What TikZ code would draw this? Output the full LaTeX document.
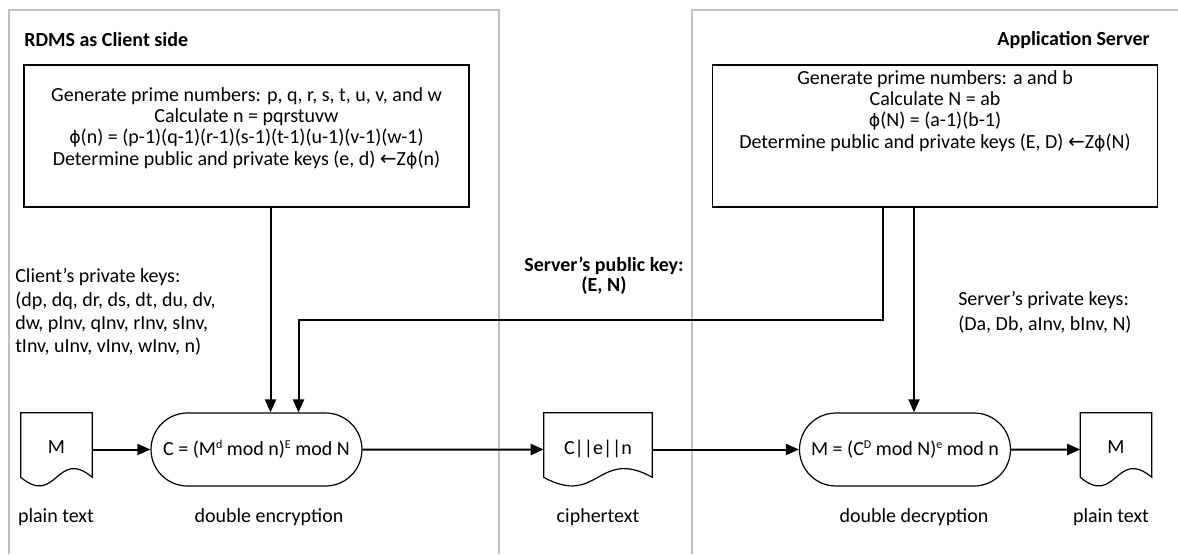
\documentclass[tikz,border=0pt]{standalone}
\usepackage{fontspec}
\setmainfont{Carlito}
\newfontfamily\arrowfont{DejaVu Sans}
\usepackage{tikz}
\usetikzlibrary{arrows.meta,calc,shapes.misc,positioning}
\newcommand{\expo}[1]{\raisebox{0.75ex}{\fontsize{9pt}{9pt}\selectfont #1}}
\newcommand{\totient}{{\arrowfont\fontsize{13pt}{13pt}\selectfont ϕ}}

\begin{document}
\begin{tikzpicture}[x=0.75pt,y=-0.75pt,
        every node/.style={inner sep=0pt,font=\fontsize{15pt}{17.5pt}\selectfont},
        lane/.style={draw=gray!50,line width=1.5pt},
        keybox/.style={draw,line width=0.9pt,minimum width=333.75pt,minimum height=106.5pt},
        boxtext/.style={align=center,font=\fontsize{15pt}{16pt}\selectfont},
        process/.style={draw,line width=0.9pt,rounded rectangle,minimum width=158.25pt,minimum height=54.75pt},
        doc/.style={minimum height=54.75pt},
        flow/.style={line width=1.5pt,-{Triangle[length=9.75pt,width=8.25pt]}}]
        \useasboundingbox (0,0) rectangle (1178,554);

        % swim lanes
        \draw[lane] (9,554) -- (9,10) -- (499,10) -- (499,554);
        \draw[lane] (692,554) -- (692,10) -- (1178,10);
        \node[anchor=west,font=\fontsize{15pt}{17.5pt}\selectfont\bfseries] (clienttitle) at (24,40) {RDMS as Client side};
        \node[anchor=east,font=\fontsize{15pt}{17.5pt}\selectfont\bfseries] (servertitle) at (1150,40) {Application Server};

        % key generation
        \node[keybox] (cbox) at (246.5,136) {};
        \node[boxtext] (ctext) at (246.5,128) {Generate prime numbers: p, q, r, s, t, u, v, and w\\Calculate n = pqrstuvw\\\totient(n) = (p-1)(q-1)(r-1)(s-1)(t-1)(u-1)(v-1)(w-1)\\Determine public and private keys (e, d) {\arrowfont ←}Z\totient(n)};
        \node[keybox] (sbox) at (935,136) {};
        \node[boxtext] (stext) at (935,111) {Generate prime numbers: a and b\\Calculate N = ab\\\totient(N) = (a-1)(b-1)\\Determine public and private keys (E, D) {\arrowfont ←}Z\totient(N)};

        \node[anchor=west,align=left] (ckeys) at (15,312) {Client’s private keys:\\(dp, dq, dr, ds, dt, du, dv,\\dw, pInv, qInv, rInv, sInv,\\tInv, uInv, vInv, wInv, n)};
        \node[align=center,font=\fontsize{15pt}{15pt}\selectfont\bfseries] (pubkey) at (604,276) {Server’s public key:\\(E, N)};
        \node[anchor=west,align=left,font=\fontsize{15pt}{18.5pt}\selectfont] (skeys) at (958,312) {Server’s private keys:\\(Da, Db, aInv, bInv, N)};

        % bottom row
        \node[doc,minimum width=53.25pt] (m1) at (56.5,449.5) {\raisebox{3pt}{M}};
        \node[process] (enc) at (256.5,449.5) {C = (M\expo{d} mod n)\expo{E} mod N};
        \node[doc,minimum width=81pt] (ct) at (598,449.5) {\raisebox{4pt}{C||e||n}};
        \node[process] (dec) at (905,449.5) {M = (C\expo{D} mod N)\expo{e} mod n};
        \node[doc,minimum width=53.25pt] (m2) at (1116,449.5) {\raisebox{3pt}{M}};
        \foreach \d in {m1,ct,m2}
            \draw[line width=0.9pt] ($(\d.south east)+(0,-9)$) -- (\d.north east) -- (\d.north west) -- ($(\d.south west)+(0,-9)$)
                .. controls ($(\d.south)+(0,21)$) and ($(\d.south)+(0,-39)$) .. cycle;

        \node (l1) at (56,517) {plain text};
        \node (l2) at (269,517) {double encryption};
        \node (l3) at (598,517) {ciphertext};
        \node (l4) at (914,517) {double decryption};
        \node (l5) at (1111,517) {plain text};

        % connectors
        \coordinate (e1) at ($(enc.north)+(14,0)$);
        \coordinate (e2) at ($(enc.north)+(42,0)$);
        \coordinate (d1) at ($(dec.north)+(9,0)$);
        \coordinate (s1) at ($(sbox.south)+(-52,0)$);
        \draw[flow] (cbox.south -| e1) -- (e1);
        \draw[flow] (s1) -- ++(0,112) -| (e2);
        \draw[flow] (sbox.south -| d1) -- (d1);
        \draw[flow] (m1) -- (enc);
        \draw[flow] (enc) -- (ct);
        \draw[flow] (ct) -- (dec);
        \draw[flow] (dec) -- (m2);
\end{tikzpicture}
\end{document}
